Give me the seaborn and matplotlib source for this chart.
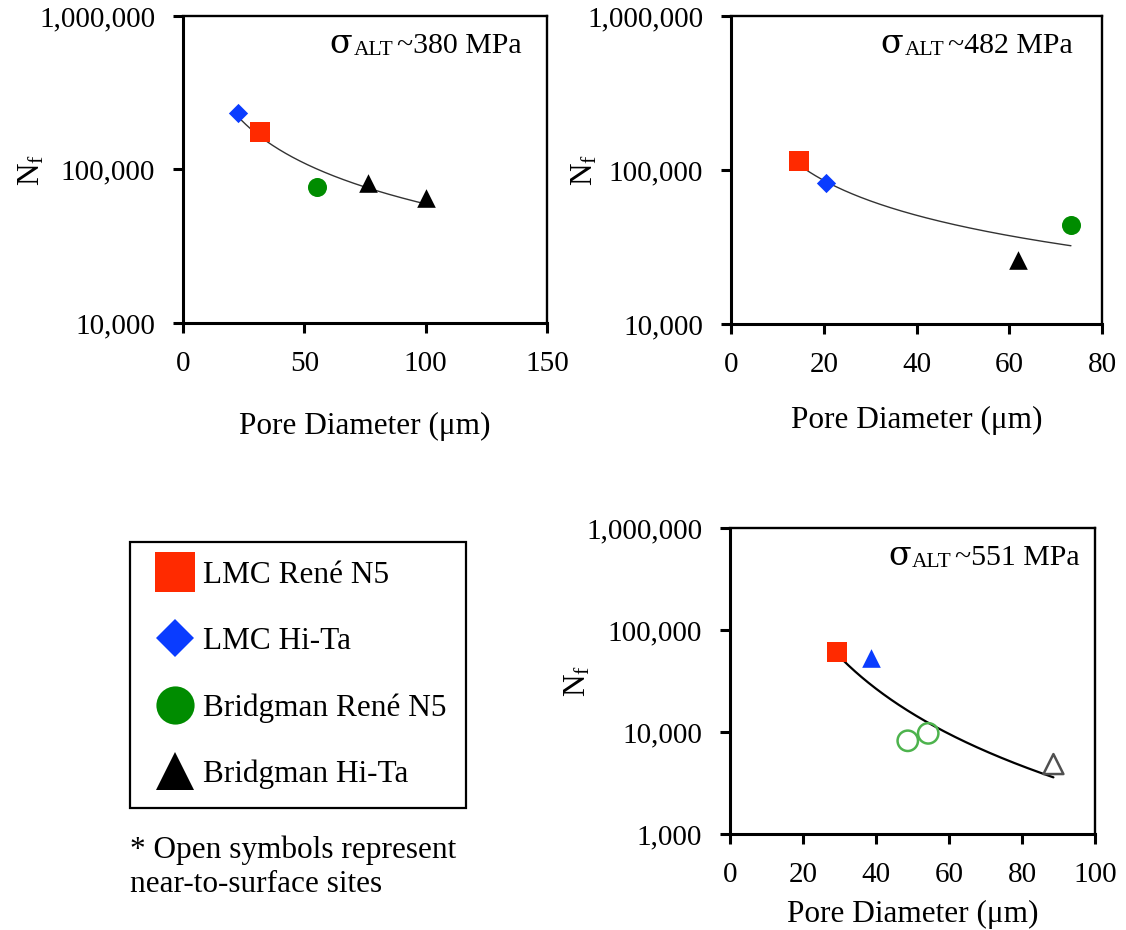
import numpy as np
import pandas as pd
import matplotlib
matplotlib.use("Agg")
import matplotlib.pyplot as plt
import seaborn as sns
from matplotlib.lines import Line2D
from matplotlib.ticker import FixedLocator, FuncFormatter, NullLocator

# ---- data: pore diameter (um) vs. cycles to failure, per stress level ----
s380_diam = [22.5, 31.7, 55.2, 76.1, 100.0]
s380_nf = [232000, 176000, 76500, 82000, 65000]
s380_alloy = ["LMC Hi-Ta", "LMC René N5", "Bridgman René N5", "Bridgman Hi-Ta", "Bridgman Hi-Ta"]
s380_surface = [False, False, False, False, False]

s482_diam = [14.7, 20.5, 73.3, 61.8]
s482_nf = [114000, 82000, 44000, 26000]
s482_alloy = ["LMC René N5", "LMC Hi-Ta", "Bridgman René N5", "Bridgman Hi-Ta"]
s482_surface = [False, False, False, False]

s551_diam = [29.2, 38.5, 48.7, 54.3, 88.6]
s551_nf = [60400, 52800, 8200, 9700, 4850]
s551_alloy = ["LMC René N5", "LMC Hi-Ta", "Bridgman René N5", "Bridgman René N5", "Bridgman Hi-Ta"]
s551_surface = [False, False, True, True, True]

legend_labels = ["LMC René N5", "LMC Hi-Ta", "Bridgman René N5", "Bridgman Hi-Ta"]
stress_labels = ["380", "482", "551"]

# ---- styling ----
sns.set_style("ticks")
plt.rcParams["font.family"] = ["Liberation Serif", "DejaVu Serif"]
plt.rcParams["mathtext.fontset"] = "custom"
plt.rcParams["mathtext.rm"] = "Liberation Serif"
plt.rcParams["mathtext.it"] = "Liberation Serif:italic"
for key in ["text.color", "axes.labelcolor", "xtick.color", "ytick.color", "axes.edgecolor"]:
    plt.rcParams[key] = "black"

COLORS = {"LMC René N5": "#FF2A00", "LMC Hi-Ta": "#0A3CFF",
          "Bridgman René N5": "#008C00", "Bridgman Hi-Ta": "#000000"}
OPEN_COLORS = {"Bridgman René N5": "#4DB34D", "Bridgman Hi-Ta": "#505050"}
MARKERS = {"LMC René N5": "s", "LMC Hi-Ta": "D", "Bridgman René N5": "o", "Bridgman Hi-Ta": "^"}
SIZES = {"s": 13.7 ** 2, "D": 9.8 ** 2, "o": 13.7 ** 2, "^": 13.4 ** 2}
LEG_MS = {"s": 28.5, "D": 19.5, "o": 27.5, "^": 27.5}

TICK_FS = 21
LABEL_FS = 22.5

fig = plt.figure(figsize=(11.26, 9.30), dpi=100)
renderer = fig.canvas.get_renderer()
to_fig = fig.transFigure.inverted()


def comma_fmt(v, _):
    return f"{int(round(v)):,}"


def stress_note(ax, stress, x_right, y_base):
    """Write 'sigma_ALT ~NNN MPa', right-aligned, as three pieces."""
    main = ax.text(x_right, y_base, "~" + stress + " MPa", transform=ax.transAxes,
                   ha="right", va="baseline", fontsize=21.5)
    left = main.get_window_extent(renderer).x0
    base = ax.transAxes.transform((x_right, y_base))[1]
    sub_x, sub_y = to_fig.transform((left - 4, base - 2.5))
    sub = fig.text(sub_x, sub_y, "ALT", ha="right", va="baseline", fontsize=15.5)
    left = sub.get_window_extent(renderer).x0
    sx, sy = to_fig.transform((left - 1, base))
    fig.text(sx, sy, "\u03c3", ha="right", va="baseline", fontsize=24,
             family="DejaVu Serif")


def panel(ax, diam, nf, alloy, surface, stress, xmax, xstep, ymin,
          marker_override=None, fit_color="#333333", fit_lw=1.0,
          ann_x=0.93, ylab_x=-0.41, xlab_y=-0.33):
    df = pd.DataFrame({"diam": diam, "nf": nf, "alloy": alloy, "surface": surface})

    # power-law trendline through all points of this stress level
    b, a = np.polyfit(np.log10(df["diam"]), np.log10(df["nf"]), 1)
    grid = np.linspace(df["diam"].min(), df["diam"].max(), 200)
    sns.lineplot(x=grid, y=10 ** (a + b * np.log10(grid)), ax=ax,
                 color=fit_color, lw=fit_lw, zorder=2)

    for i, row in df.iterrows():
        m = MARKERS[row["alloy"]]
        if marker_override and row["alloy"] in marker_override:
            m = marker_override[row["alloy"]]
        sub = df.iloc[[i]]
        if row["surface"]:
            c = OPEN_COLORS[row["alloy"]]
            sns.scatterplot(data=sub, x="diam", y="nf", ax=ax, marker=m,
                            s=SIZES[m] * 1.15, color=c, facecolor="none",
                            edgecolor=c, linewidth=1.8, zorder=3, legend=False)
        else:
            sns.scatterplot(data=sub, x="diam", y="nf", ax=ax, marker=m,
                            s=SIZES[m], color=COLORS[row["alloy"]],
                            linewidth=0, zorder=3, legend=False)

    ax.set_yscale("log")
    ax.set_xlim(0, xmax)
    ax.set_ylim(ymin, 1e6)
    ax.xaxis.set_major_locator(FixedLocator(np.arange(0, xmax + 1, xstep)))
    ax.yaxis.set_major_locator(FixedLocator([10 ** k for k in range(int(np.log10(ymin)), 7)]))
    ax.yaxis.set_minor_locator(NullLocator())
    ax.yaxis.set_major_formatter(FuncFormatter(comma_fmt))

    for side in ["left", "bottom"]:
        ax.spines[side].set_linewidth(2.2)
    for side in ["top", "right"]:
        ax.spines[side].set_linewidth(1.7)
    for sp in ax.spines.values():
        sp.set_color("black")
        sp.set_visible(True)
    ax.tick_params(direction="out", length=7, width=2.2, labelsize=TICK_FS,
                   pad=13, color="black", labelcolor="black")

    ax.set_xlabel("Pore Diameter (\u03bcm)", fontsize=LABEL_FS, va="center")
    ax.set_ylabel(r"N$_\mathrm{f}$", fontsize=LABEL_FS, va="center")
    ax.xaxis.set_label_coords(0.5, xlab_y)
    ax.yaxis.set_label_coords(ylab_x, 0.5)

    stress_note(ax, stress, ann_x, 0.88)


ax1 = fig.add_axes([0.1625, 0.6527, 0.3233, 0.3301])
ax2 = fig.add_axes([0.6492, 0.6516, 0.3295, 0.3312])
ax3 = fig.add_axes([0.6483, 0.1032, 0.3242, 0.3291])

panel(ax1, s380_diam, s380_nf, s380_alloy, s380_surface, stress_labels[0],
      150, 50, 1e4, ann_x=0.931, ylab_x=-0.415, xlab_y=-0.338)
panel(ax2, s482_diam, s482_nf, s482_alloy, s482_surface, stress_labels[1],
      80, 20, 1e4, ann_x=0.922, ylab_x=-0.394, xlab_y=-0.312)
panel(ax3, s551_diam, s551_nf, s551_alloy, s551_surface, stress_labels[2],
      100, 20, 1e3, marker_override={"LMC Hi-Ta": "^"}, fit_color="black",
      fit_lw=1.6, ann_x=0.959, ylab_x=-0.416, xlab_y=-0.262)

# ---- shared legend for the marker types ----
handles = [Line2D([], [], linestyle="none", marker=MARKERS[l], color=COLORS[l],
                  markeredgewidth=0, markersize=LEG_MS[MARKERS[l]])
           for l in legend_labels]
leg = fig.legend(handles, legend_labels, loc="upper left",
                 bbox_to_anchor=(130 / 1126, 1 - 542 / 930),
                 frameon=True, fancybox=False, fontsize=LABEL_FS,
                 borderpad=0.6, labelspacing=1.19, handlelength=1.7,
                 handletextpad=0.05, borderaxespad=0)
leg.get_frame().set_edgecolor("black")
leg.get_frame().set_linewidth(1.6)
leg.get_frame().set_alpha(None)

fig.text(130 / 1126, 1 - 835 / 930,
         "* Open symbols represent\nnear-to-surface sites",
         ha="left", va="top", fontsize=LABEL_FS, linespacing=1.25)

fig.savefig("out.png", dpi=100)
